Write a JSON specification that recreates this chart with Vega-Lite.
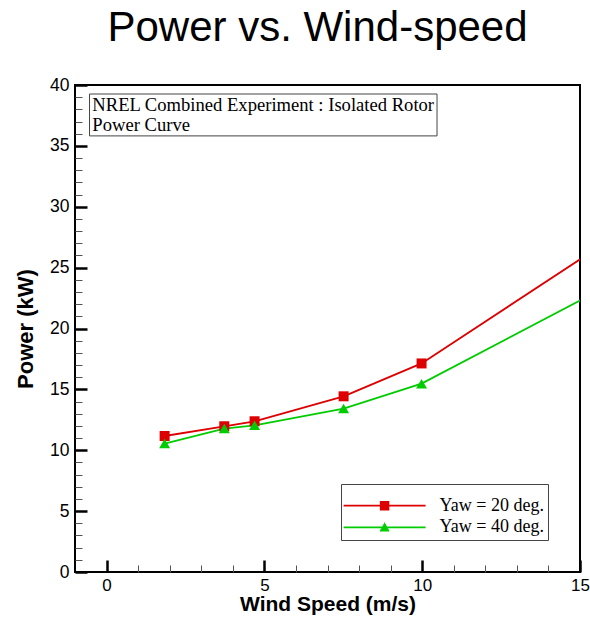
{
  "$schema": "https://vega.github.io/schema/vega-lite/v6.json",
  "width": 505,
  "height": 487,
  "autosize": "none",
  "padding": {"left": 75, "top": 85, "right": 10, "bottom": 48},
  "background": "white",
  "config": {
    "view": {"stroke": "black", "strokeWidth": 2},
    "font": "Liberation Sans"
  },
  "title": {
    "text": "Power vs. Wind-speed",
    "font": "Liberation Sans",
    "fontSize": 42,
    "fontWeight": "normal",
    "color": "black",
    "anchor": "middle",
    "frame": "group",
    "offset": 26,
    "dx": -10
  },
  "resolve": {"axis": {"x": "independent", "y": "independent"}},
  "data": {
    "values": [
      {"series": "Yaw = 20 deg.", "wind": 1.84, "power": 11.17},
      {"series": "Yaw = 20 deg.", "wind": 3.73, "power": 11.97},
      {"series": "Yaw = 20 deg.", "wind": 4.69, "power": 12.38},
      {"series": "Yaw = 20 deg.", "wind": 7.51, "power": 14.43},
      {"series": "Yaw = 20 deg.", "wind": 9.98, "power": 17.13},
      {"series": "Yaw = 20 deg.", "wind": 20, "power": 34.2},
      {"series": "Yaw = 40 deg.", "wind": 1.84, "power": 10.55},
      {"series": "Yaw = 40 deg.", "wind": 3.73, "power": 11.78},
      {"series": "Yaw = 40 deg.", "wind": 4.69, "power": 12.05},
      {"series": "Yaw = 40 deg.", "wind": 7.51, "power": 13.42},
      {"series": "Yaw = 40 deg.", "wind": 9.98, "power": 15.47},
      {"series": "Yaw = 40 deg.", "wind": 20, "power": 29.1}
    ]
  },
  "layer": [
    {
      "data": {"values": [{"note": "box"}]},
      "mark": {"type": "rect", "fill": "transparent", "stroke": "#444444", "strokeWidth": 1},
      "encoding": {
        "x": {
          "datum": -0.54,
          "type": "quantitative",
          "scale": {"domain": [-1, 15], "nice": false, "zero": false},
          "axis": {
            "orient": "bottom",
            "title": null,
            "values": [1, 2, 3, 4, 6, 7, 8, 9, 11, 12, 13, 14],
            "labels": false,
            "tickSize": -7,
            "tickWidth": 1,
            "tickColor": "#555555",
            "grid": false,
            "domain": false
          }
        },
        "x2": {"datum": 10.47},
        "y": {
          "datum": 39.26,
          "type": "quantitative",
          "scale": {"domain": [0, 40], "nice": false, "zero": false},
          "axis": {
            "orient": "left",
            "title": null,
            "values": [1, 2, 3, 4, 6, 7, 8, 9, 11, 12, 13, 14, 16, 17, 18, 19, 21, 22, 23, 24, 26, 27, 28, 29, 31, 32, 33, 34, 36, 37, 38, 39],
            "labels": false,
            "tickSize": -7,
            "tickWidth": 1,
            "tickColor": "#555555",
            "grid": false,
            "domain": false
          }
        },
        "y2": {"datum": 35.82}
      }
    },
    {
      "mark": {"type": "line", "strokeWidth": 1.8, "clip": true},
      "encoding": {
        "x": {
          "field": "wind",
          "type": "quantitative",
          "axis": {
            "orient": "bottom",
            "title": "Wind Speed (m/s)",
            "values": [0, 5, 10, 15],
            "tickSize": -12,
            "tickWidth": 2.5,
            "tickColor": "black",
            "grid": false,
            "domain": false,
            "labelFont": "Liberation Sans",
            "labelFontSize": 17,
            "labelColor": "black",
            "labelPadding": 17,
            "labelOverlap": false,
            "labelFlush": false,
            "labelBound": false,
            "titleFont": "Liberation Sans",
            "titleFontSize": 21,
            "titleFontWeight": "bold",
            "titleColor": "black",
            "titlePadding": 0
          }
        },
        "y": {
          "field": "power",
          "type": "quantitative",
          "axis": {
            "orient": "left",
            "title": "Power (kW)",
            "values": [0, 5, 10, 15, 20, 25, 30, 35, 40],
            "tickSize": -12,
            "tickWidth": 2.5,
            "tickColor": "black",
            "grid": false,
            "domain": false,
            "labelFont": "Liberation Sans",
            "labelFontSize": 17.5,
            "labelColor": "black",
            "labelPadding": 18,
            "labelOverlap": false,
            "labelFlush": false,
            "labelBound": false,
            "titleFont": "Liberation Sans",
            "titleFontSize": 22,
            "titleFontWeight": "bold",
            "titleColor": "black",
            "titlePadding": 12
          }
        },
        "color": {
          "field": "series",
          "type": "nominal",
          "scale": {"domain": ["Yaw = 20 deg.", "Yaw = 40 deg."], "range": ["#dd0000", "#00cc00"]},
          "legend": {
            "title": "\u00a0",
            "titleFontSize": 6,
            "titlePadding": 3.4,
            "orient": "bottom-right",
            "offset": 32,
            "strokeColor": "#444444",
            "fillColor": "white",
            "padding": 3.3,
            "labelFont": "Liberation Serif",
            "labelFontSize": 18,
            "labelColor": "black",
            "labelOffset": 46,
            "labelLimit": 0,
            "symbolSize": 100,
            "symbolOffset": 31.3,
            "symbolStrokeWidth": 1.8,
            "rowPadding": 3.7,
            "encode": {
              "symbols": {
                "update": {
                  "shape": {"signal": "datum.value === 'Yaw = 20 deg.' ? 'M-8.2,0H8.2M-0.95,-0.77H0.95M-0.95,-0.46H0.95M-0.95,-0.15H0.95M-0.95,0.15H0.95M-0.95,0.46H0.95M-0.95,0.77H0.95' : 'M-8.2,0H8.2M-0.1,-0.82H0.1M-0.27,-0.52H0.27M-0.43,-0.22H0.43M-0.6,0.08H0.6M-0.77,0.38H0.77M-0.92,0.66H0.92'"},
                  "stroke": {"signal": "scale('color', datum.value)"},
                  "strokeWidth": {"value": 1.8},
                  "strokeOpacity": {"value": 1}
                }
              }
            }
          }
        }
      }
    },
    {
      "transform": [{"filter": "datum.series === 'Yaw = 20 deg.'"}],
      "mark": {"type": "point", "shape": "square", "filled": true, "opacity": 1, "size": 100, "clip": true},
      "encoding": {
        "x": {"field": "wind", "type": "quantitative", "axis": null},
        "y": {"field": "power", "type": "quantitative", "axis": null},
        "color": {"field": "series", "type": "nominal", "legend": null}
      }
    },
    {
      "transform": [{"filter": "datum.series === 'Yaw = 40 deg.'"}],
      "mark": {"type": "point", "shape": "triangle-up", "filled": true, "opacity": 1, "size": 120, "clip": true},
      "encoding": {
        "x": {"field": "wind", "type": "quantitative", "axis": null},
        "y": {"field": "power", "type": "quantitative", "axis": null},
        "color": {"field": "series", "type": "nominal", "legend": null}
      }
    },
    {
      "data": {"values": [{"note": "NREL Combined Experiment : Isolated Rotor\nPower Curve"}]},
      "mark": {"type": "text", "font": "Liberation Serif", "fontSize": 18.6, "align": "left", "baseline": "alphabetic", "lineBreak": "\n", "lineHeight": 20, "color": "black"},
      "encoding": {
        "x": {"datum": -0.45, "type": "quantitative", "axis": null},
        "y": {"datum": 37.87, "type": "quantitative", "axis": null},
        "text": {"field": "note", "type": "nominal"}
      }
    }
  ]
}
